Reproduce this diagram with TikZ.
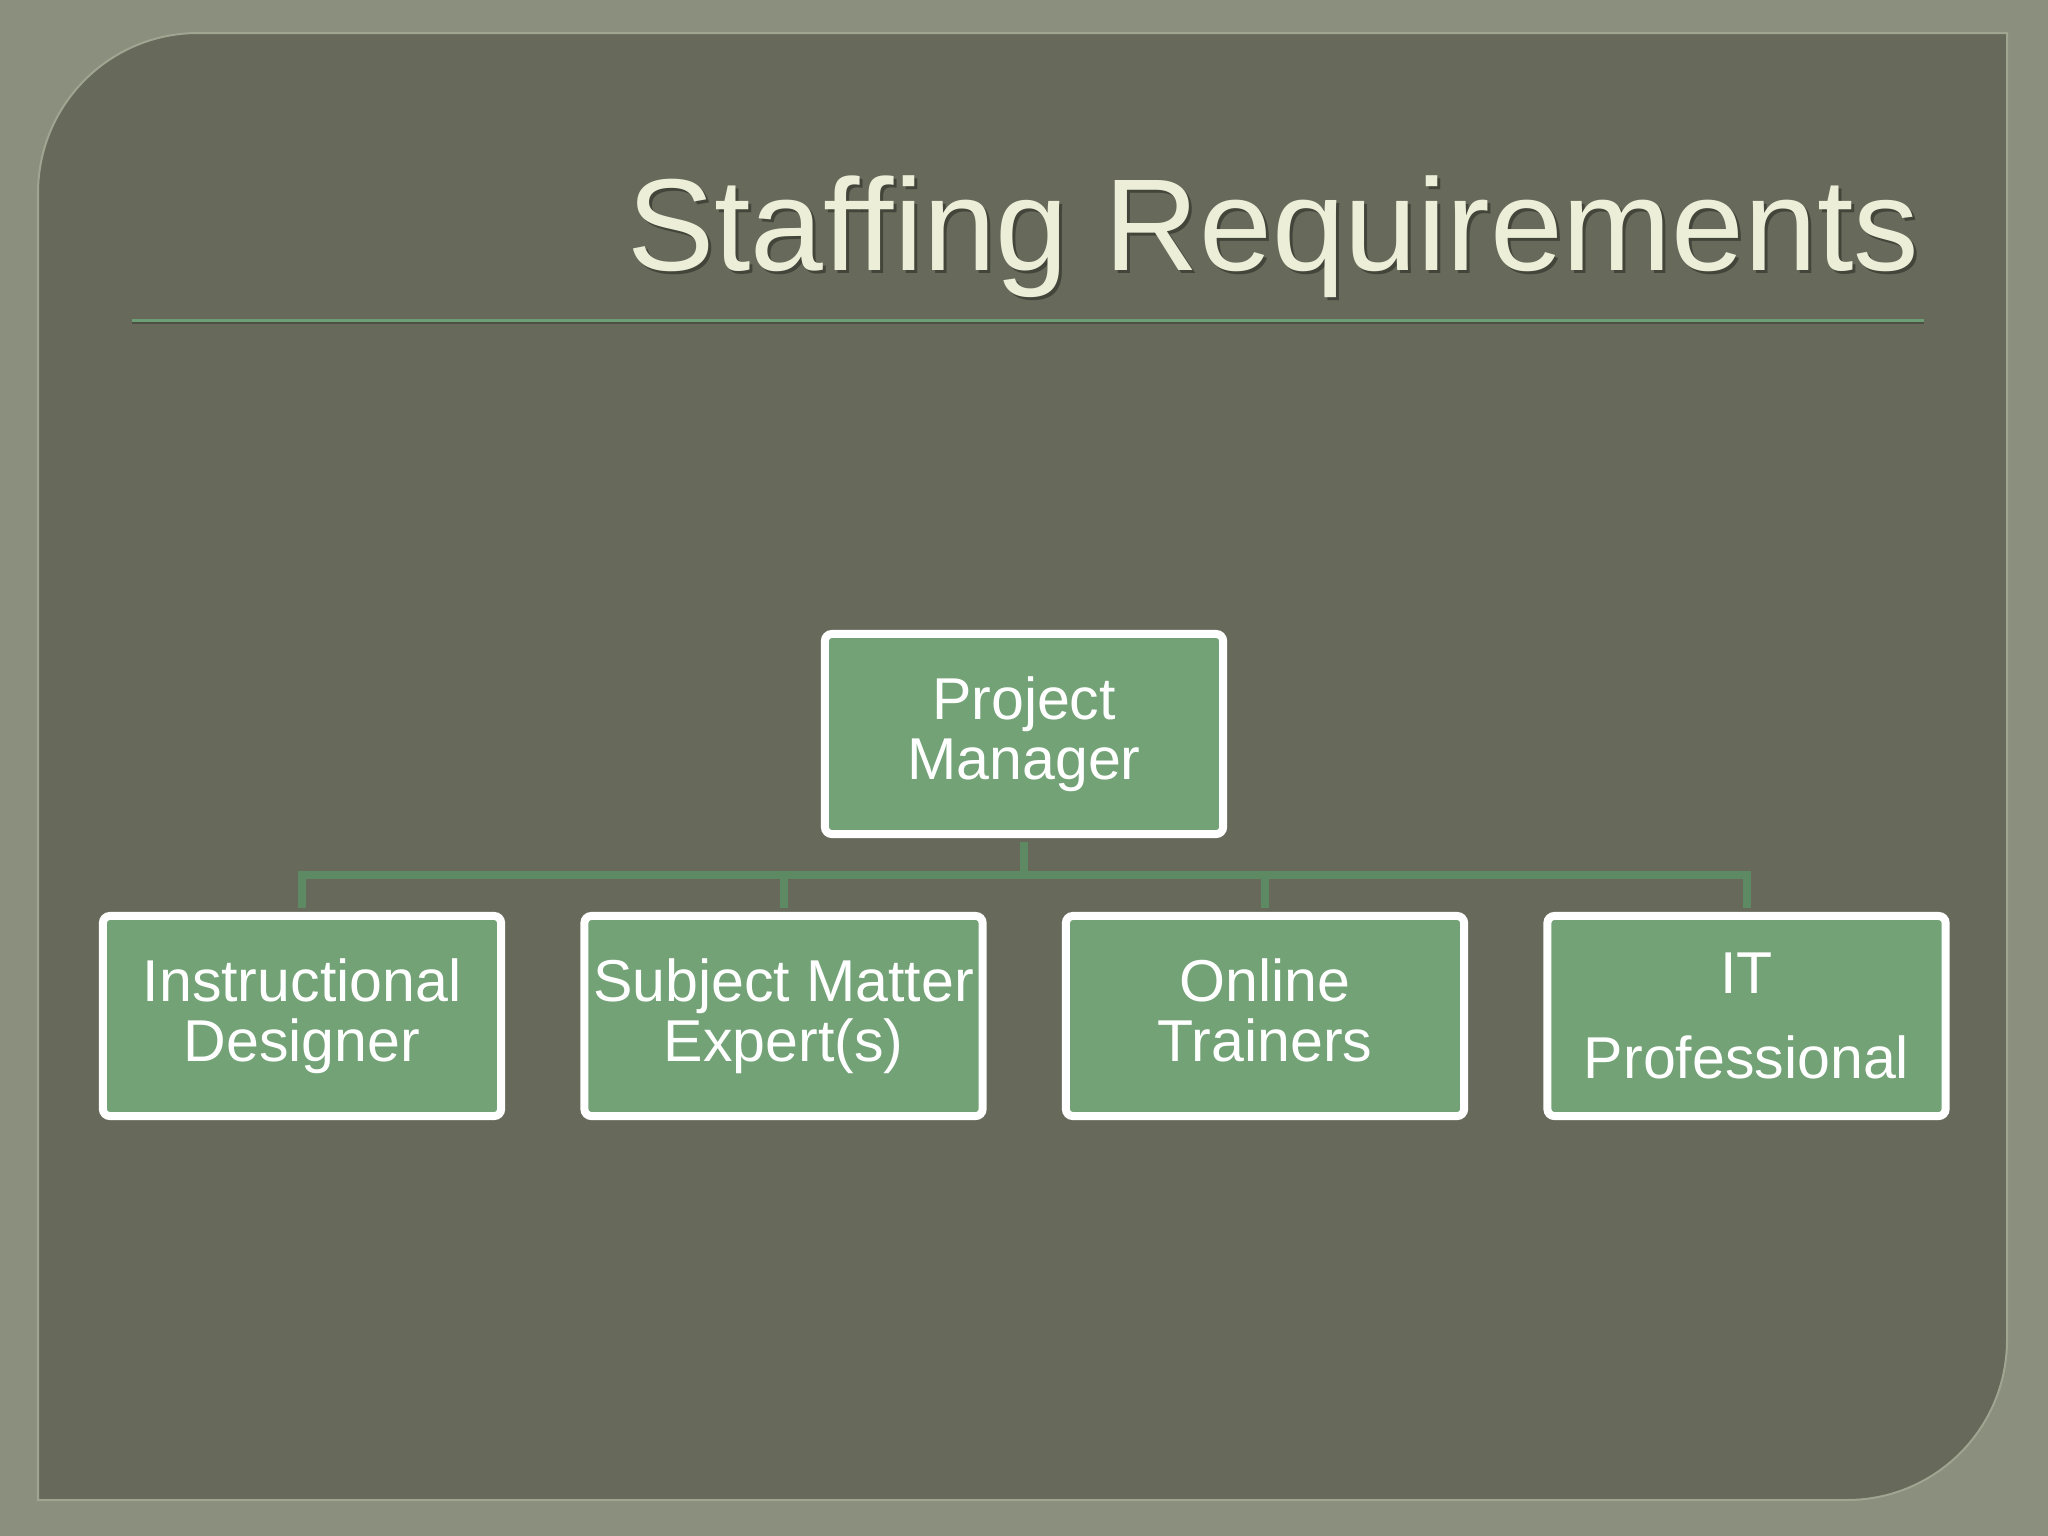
\documentclass[tikz,border=0pt]{standalone}
\usepackage{fontspec}
\setmainfont{Liberation Sans}
\definecolor{outerbg}{RGB}{138,143,126}
\definecolor{panelbg}{RGB}{103,106,91}
\definecolor{paneledge}{RGB}{160,165,145}
\definecolor{boxfill}{RGB}{114,162,118}
\definecolor{connc}{RGB}{94,138,99}
\definecolor{titlec}{RGB}{236,238,216}
\definecolor{shadowc}{RGB}{52,54,44}
\definecolor{rulec}{RGB}{108,158,118}
\tikzset{
  orgbox/.style={draw=white, line width=0.08cm, fill=boxfill, rounded corners=2pt,
    minimum width=3.98cm, minimum height=2.0cm, inner sep=0pt, text=white,
    align=center, font=\fontsize{16.8}{17.1}\selectfont},
  conn/.style={draw=connc, line width=0.08cm, shorten <=0.04cm, shorten >=0.04cm},
}
\begin{document}
\begin{tikzpicture}[x=0.01cm, y=-0.01cm]
\useasboundingbox (0,0) rectangle (2048,1536);
\fill[outerbg] (0,0) rectangle (2048,1536);
% panel
\path[fill=panelbg, draw=paneledge, line width=0.02cm]
  (38,1500) -- (38,193) .. controls (38,104.6) and (109.6,33) .. (198,33)
  -- (2007,33) -- (2007,1340) .. controls (2007,1428.4) and (1935.4,1500) .. (1847,1500)
  -- cycle;
% title
\node[anchor=base east, text=shadowc, opacity=0.7, inner sep=0pt,
  font=\fontsize{37.2}{40}\selectfont] (titleshadow) at (1923,273) {Staffing Requirements};
\node[anchor=base east, text=titlec, inner sep=0pt,
  font=\fontsize{37.2}{40}\selectfont] (title) at (1920,270) {Staffing Requirements};
\draw[shadowc, opacity=0.5, line width=0.02cm] (132,323) -- (1924,323);
\draw[rulec, line width=0.03cm] (132,320) -- (1924,320);
% boxes
\node[orgbox] (pm) at (1024,734) {Project\\Manager};
\node[orgbox] (id) at (302,1016) {Instructional\\Designer};
\node[orgbox] (sme) at (783.5,1016) {Subject Matter\\Expert(s)};
\node[orgbox] (ot) at (1265,1016) {Online\\Trainers\vphantom{g}};
\node[orgbox] (it) at (1746.5,1016) {IT\\[0.25cm]Professional};
\coordinate (bus) at (1024,875);
% connectors
\draw[conn] (pm.south) -- (bus) -| (id.north);
\draw[conn] (pm.south) -- (bus) -| (sme.north);
\draw[conn] (pm.south) -- (bus) -| (ot.north);
\draw[conn] (pm.south) -- (bus) -| (it.north);
\end{tikzpicture}
\end{document}
